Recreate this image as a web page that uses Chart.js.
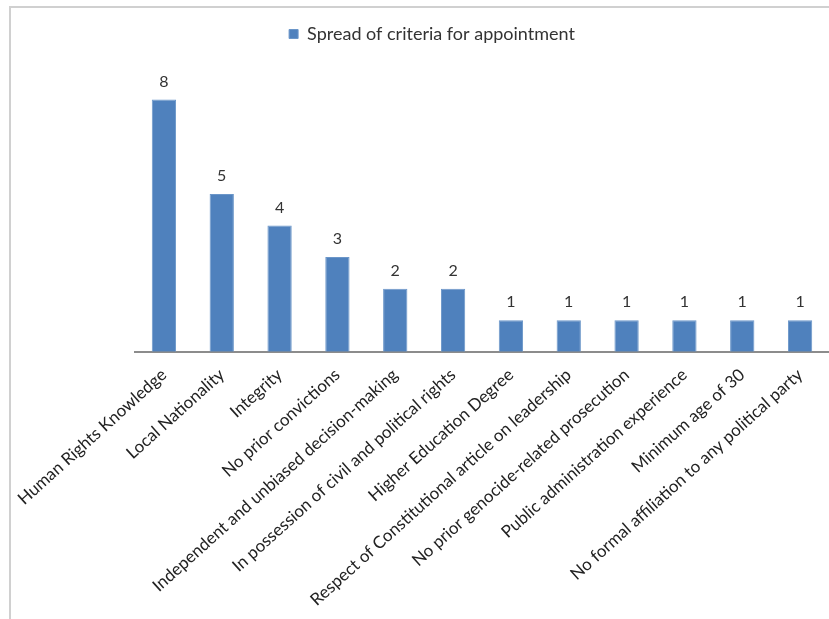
<!DOCTYPE html>
<html>
<head>
<meta charset="utf-8">
<script src="https://cdn.jsdelivr.net/npm/chart.js@4.4.1/dist/chart.umd.min.js"></script>
<style>
  body { margin: 0; background: #fff; }
  #wrap { position: relative; width: 829px; height: 619px; }
  #frame {
    position: absolute; left: 9px; top: 6px; right: 0; bottom: 0;
    border-top: 2px solid #d0d0d0; border-left: 2px solid #d0d0d0;
  }
  #chart { position: absolute; left: 0; top: 0; }
</style>
</head>
<body>
<div id="wrap">
  <div id="frame"></div>
  <canvas id="chart" width="829" height="619"></canvas>
</div>
<script>
  const criteria = [
    'Human Rights Knowledge',
    'Local Nationality',
    'Integrity',
    'No prior convictions',
    'Independent and unbiased decision-making',
    'In possession of civil and political rights',
    'Higher Education Degree',
    'Respect of Constitutional article on leadership',
    'No prior genocide-related prosecution',
    'Public administration experience',
    'Minimum age of 30',
    'No formal affiliation to any political party'
  ];
  const counts = [8, 5, 4, 3, 2, 2, 1, 1, 1, 1, 1, 1];
  const seriesName = 'Spread of criteria for appointment';

  const FONT = "Lato, 'Open Sans', sans-serif";

  // writes each bar's value just above it
  const barValues = {
    id: 'barValues',
    afterDatasetsDraw(chart) {
      const ctx = chart.ctx;
      const meta = chart.getDatasetMeta(0);
      ctx.save();
      ctx.font = '16px ' + FONT;
      ctx.fillStyle = '#333';
      ctx.textAlign = 'center';
      ctx.textBaseline = 'middle';
      meta.data.forEach((bar, i) => {
        ctx.fillText(String(counts[i]), bar.x, bar.y - 18);
      });
      ctx.restore();
    }
  };

  // extra room under the legend, and the legend centred on the whole frame
  const legendGap = {
    id: 'legendGap',
    beforeInit(chart) {
      const fit = chart.legend.fit;
      chart.legend.fit = function () {
        fit.call(this);
        this.height += 15;
      };
    },
    afterLayout(chart) {
      chart.legend.left = 35;
      chart.legend.right = chart.width;
    }
  };

  new Chart(document.getElementById('chart'), {
    type: 'bar',
    data: {
      labels: criteria,
      datasets: [{
        label: seriesName,
        data: counts,
        backgroundColor: '#4f81bd',
        borderColor: '#6b96c9',
        borderWidth: 1,
        categoryPercentage: 1,
        barPercentage: 0.42
      }]
    },
    options: {
      responsive: false,
      animation: false,
      layout: { padding: { top: 15, left: 135, right: 0, bottom: -4 } },
      plugins: {
        legend: {
          position: 'top',
          labels: {
            boxWidth: 9,
            boxHeight: 9,
            color: '#333',
            font: { family: FONT, size: 18 },
            padding: 10
          }
        },
        tooltip: { enabled: false }
      },
      scales: {
        y: {
          display: false,
          min: 0,
          max: 9
        },
        x: {
          grid: { display: false, drawTicks: false },
          border: { display: true, color: '#8c8c8c', width: 2 },
          ticks: {
            autoSkip: false,
            minRotation: 42,
            maxRotation: 42,
            padding: 13,
            color: '#222',
            font: { family: FONT, size: 17 }
          }
        }
      }
    },
    plugins: [barValues, legendGap]
  });
</script>
</body>
</html>
